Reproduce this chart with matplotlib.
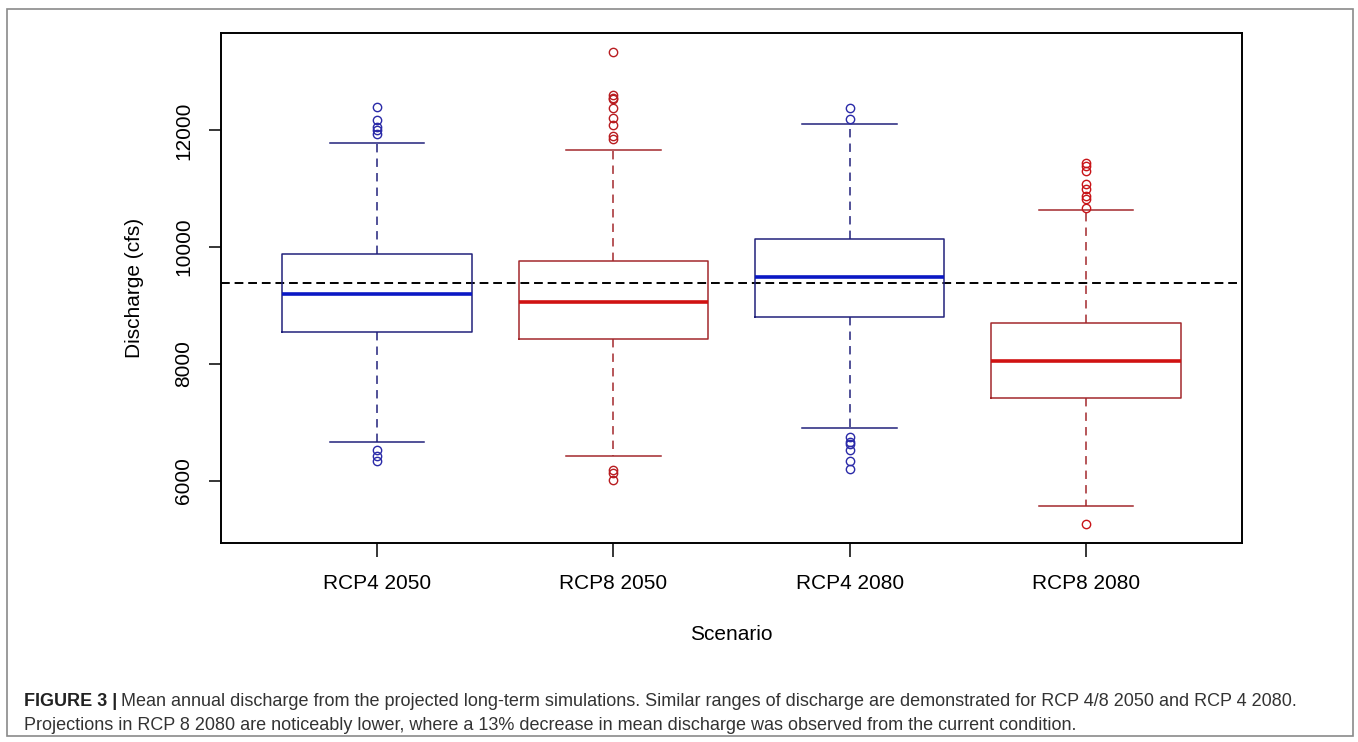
import matplotlib
matplotlib.use("Agg")
import matplotlib.pyplot as plt
from matplotlib.patches import Rectangle
import numpy as np

plt.rcParams['font.family'] = ['Liberation Sans', 'DejaVu Sans']

# values
scenarios = ["RCP4 2050", "RCP8 2050", "RCP4 2080", "RCP8 2080"]
whislo = [6670, 6420, 6900, 5560]
q1 = [8545, 8430, 8800, 7415]
med = [9200, 9055, 9485, 8055]
q3 = [9885, 9760, 10145, 8705]
whishi = [11785, 11670, 12115, 10635]
fliers = [
    [12400, 12170, 12060, 12000, 11930, 6520, 6420, 6330],
    [13345, 12600, 12560, 12530, 12380, 12220, 12100, 11900, 11860, 6190, 6130, 6005],
    [12380, 12190, 6745, 6660, 6620, 6530, 6330, 6200],
    [11445, 11390, 11300, 11075, 10990, 10875, 10820, 10675, 5255],
]
current_mean = 9380

box_col = ["#22227c", "#a3282c", "#22227c", "#a3282c"]
med_col = ["#0a18c4", "#d01212", "#0a18c4", "#d01212"]
flier_col = ["#2a2aa8", "#b81c20", "#2a2aa8", "#c81418"]

fig = plt.figure(figsize=(13.58, 7.42), dpi=100)
ax = fig.add_axes([221 / 1358, 199 / 742, 1021 / 1358, 510 / 742])

stats = []
for i in range(len(scenarios)):
    stats.append(dict(label=scenarios[i], whislo=whislo[i], q1=q1[i], med=med[i],
                      q3=q3[i], whishi=whishi[i], fliers=fliers[i]))

pos = np.arange(1, len(scenarios) + 1)
res = ax.bxp(stats, positions=pos, widths=0.8, capwidths=0.4,
             boxprops=dict(linewidth=1.1),
             whiskerprops=dict(linewidth=1.1, linestyle=(0, (5.5, 4))),
             capprops=dict(linewidth=1.1),
             medianprops=dict(linewidth=2.6),
             flierprops=dict(marker='o', markersize=6, markerfacecolor='none',
                             markeredgewidth=1.0))

for i in range(len(scenarios)):
    res['boxes'][i].set_color(box_col[i])
    res['medians'][i].set_color(med_col[i])
    for k in (2 * i, 2 * i + 1):
        res['whiskers'][k].set_color(box_col[i])
        res['caps'][k].set_color(box_col[i])
    res['fliers'][i].set_markeredgecolor(flier_col[i])

ax.axhline(current_mean, color='black', linewidth=1.4, linestyle=(0, (4.5, 2.5)), zorder=1)

# R-style limits: 4% padding
allv = np.concatenate([np.array(whislo), np.array(whishi)] + [np.array(f) for f in fliers])
lo, hi = allv.min(), allv.max()
pad = 0.04 * (hi - lo)
ax.set_ylim(lo - pad, hi + pad)
ax.set_xlim(0.5 - 0.16, len(scenarios) + 0.5 + 0.16)

ax.set_yticks([6000, 8000, 10000, 12000])
ax.set_yticklabels(["6000", "8000", "10000", "12000"], rotation=90, va='center')
ax.set_xticks(pos)
ax.set_xticklabels(scenarios)
ax.tick_params(axis='y', length=9, width=1.1, pad=11, labelsize=15)
ax.tick_params(axis='x', length=10, width=1.1, pad=12, labelsize=15)
for s in ax.spines.values():
    s.set_linewidth(1.4)

ax.set_ylabel("Discharge (cfs)", fontsize=15)
ax.yaxis.set_label_coords(-0.075, 0.5)
ax.set_xlabel("Scenario", fontsize=15)
ax.xaxis.set_label_coords(0.5, -0.16)

# outer frame around the figure panel
fig.patches.append(Rectangle((7 / 1358, 6 / 742), 1346 / 1358, 727 / 742,
                             transform=fig.transFigure, fill=False,
                             edgecolor='#8a8a8a', linewidth=1.2))

# caption
fig.canvas.draw()
r = fig.canvas.get_renderer()
t1 = fig.text(24 / 1358, 1 - 701 / 742, "FIGURE 3 |", fontsize=13, fontweight='bold',
              va='center', color='#222222')
bb = t1.get_window_extent(renderer=r)
fig.text((bb.x1 + 4) / 1358, 1 - 701 / 742,
         "Mean annual discharge from the projected long-term simulations. Similar ranges of "
         "discharge are demonstrated for RCP 4/8 2050 and RCP 4 2080.",
         fontsize=13, va='center', color='#333333')
fig.text(24 / 1358, 1 - 725 / 742,
         "Projections in RCP 8 2080 are noticeably lower, where a 13% decrease in mean "
         "discharge was observed from the current condition.",
         fontsize=13, va='center', color='#333333')

fig.savefig("out.png", dpi=100)
